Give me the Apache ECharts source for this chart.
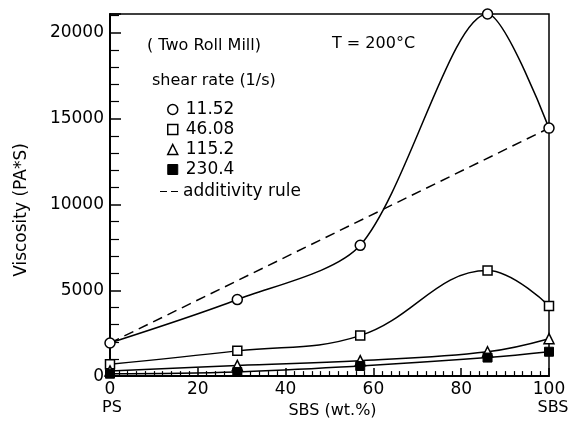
<!DOCTYPE html>
<html><head><meta charset="utf-8">
<script src="https://cdn.jsdelivr.net/npm/echarts@6/dist/echarts.min.js"></script>
<style>html,body{margin:0;padding:0;background:#fff}#c{width:569px;height:424px}</style>
</head><body><div id="c"></div>
<script>
const xValues = [0, 29, 57, 86, 100];
const s1152 = [1930, 4460, 7620, 21100, 14450];
const s4608 = [690, 1470, 2360, 6150, 4090];
const s1152b = [300, 620, 900, 1420, 2180];
const s2304 = [140, 240, 590, 1080, 1420];
const additivityX = [0, 100];
const additivityY = [1930, 14450];
const seriesNames = ['11.52', '46.08', '115.2', '230.4', 'additivity rule'];
const xTicks = [0, 20, 40, 60, 80, 100];
const yTicks = [0, 5000, 10000, 15000, 20000];

const pair = (xs, ys) => xs.map((x, i) => [x, ys[i]]);
const font = 'DejaVu Sans';
const chart = echarts.init(document.getElementById('c'), null, {renderer: 'canvas'});
const lineBase = {type: 'line', smooth: 0.4, lineStyle: {color: '#000', width: 1.5}, symbolSize: 10, z: 3};
const openStyle = {color: '#fff', borderColor: '#000', borderWidth: 1.5};
chart.setOption({
  animation: false,
  grid: {left: 110, right: 20, top: 14, bottom: 44, show: true, borderColor: '#000', borderWidth: 1.5},
  xAxis: {
    type: 'value', min: 0, max: 100, interval: 20,
    axisLine: {show: true, lineStyle: {color: '#000', width: 2}},
    axisTick: {inside: true, length: 8, lineStyle: {color: '#000', width: 1.5}},
    minorTick: {show: true, splitNumber: 10, length: 5, lineStyle: {color: '#000', width: 1.2}},
    splitLine: {show: false},
    axisLabel: {color: '#000', fontFamily: font, fontSize: 17, margin: 5,
      formatter: v => xTicks.includes(v) ? String(v) : ''},
    name: 'SBS (wt.%)', nameLocation: 'middle', nameGap: 18,
    nameTextStyle: {color: '#000', fontFamily: font, fontSize: 16, padding: [0, 0, 0, 6]}
  },
  yAxis: {
    type: 'value', min: 0, max: 21100, interval: 5000,
    axisLine: {show: true, lineStyle: {color: '#000', width: 2}},
    axisTick: {inside: true, length: 11, lineStyle: {color: '#000', width: 1.5}},
    minorTick: {show: true, splitNumber: 5, length: 9, lineStyle: {color: '#000', width: 1.2}},
    splitLine: {show: false},
    axisLabel: {color: '#000', fontFamily: font, fontSize: 17, margin: 6, showMaxLabel: false,
      formatter: v => yTicks.includes(v) ? String(v) : ''}
  },
  legend: [{
    orient: 'vertical', left: 162, top: 96, itemWidth: 10, itemHeight: 10, itemGap: 3,
    textStyle: {color: '#000', fontFamily: font, fontSize: 17, padding: [0, 0, 0, 3]},
    data: [
      {name: seriesNames[0], icon: 'circle', itemStyle: openStyle},
      {name: seriesNames[1], icon: 'rect', itemStyle: openStyle},
      {name: seriesNames[2], icon: 'triangle', itemStyle: openStyle},
      {name: seriesNames[3], icon: 'rect', itemStyle: {color: '#000', borderColor: '#000', borderWidth: 1}}
    ]
  }, {
    orient: 'vertical', left: 155, top: 178, itemWidth: 18, itemHeight: 2,
    textStyle: {color: '#000', fontFamily: font, fontSize: 17, padding: [0, 0, 0, 0]},
    data: [{name: seriesNames[4], icon: 'path://M0,0H7V1H0Z M11,0H18V1H11Z',
      itemStyle: {color: '#000', borderWidth: 0}}]
  }],
  graphic: [
    {type: 'text', left: 147, top: 38, style: {text: '( Two Roll Mill)', font: '16px ' + font, fill: '#000'}},
    {type: 'text', left: 332, top: 36, style: {text: 'T = 200°C', font: '16px ' + font, fill: '#000'}},
    {type: 'text', left: 152, top: 73, style: {text: 'shear rate (1/s)', font: '16px ' + font, fill: '#000'}},
    {type: 'text', x: 22, y: 210, rotation: Math.PI / 2,
      style: {text: 'Viscosity (PA*S)', font: '17px ' + font, fill: '#000', align: 'center', verticalAlign: 'middle'}},
    {type: 'text', x: 112, y: 408, style: {text: 'PS', font: '16px ' + font, fill: '#000', align: 'center', verticalAlign: 'middle'}},
    {type: 'text', x: 553, y: 408, style: {text: 'SBS', font: '16px ' + font, fill: '#000', align: 'center', verticalAlign: 'middle'}}
  ],
  series: [
    Object.assign({}, lineBase, {name: seriesNames[0], data: pair(xValues, s1152), symbol: 'circle', smooth: 0.28,
      itemStyle: openStyle}),
    Object.assign({}, lineBase, {name: seriesNames[1], data: pair(xValues, s4608), symbol: 'rect', symbolSize: 9,
      itemStyle: openStyle}),
    Object.assign({}, lineBase, {name: seriesNames[2], data: pair(xValues, s1152b), symbol: 'triangle', symbolSize: 10,
      itemStyle: openStyle}),
    Object.assign({}, lineBase, {name: seriesNames[3], data: pair(xValues, s2304), symbol: 'rect', symbolSize: 9,
      itemStyle: {color: '#000', borderColor: '#000', borderWidth: 1}}),
    {type: 'line', name: seriesNames[4], data: pair(additivityX, additivityY), symbol: 'none', z: 2,
      lineStyle: {color: '#000', width: 1.5, type: [10, 6]}, itemStyle: {color: '#000'}}
  ]
});
</script></body></html>
